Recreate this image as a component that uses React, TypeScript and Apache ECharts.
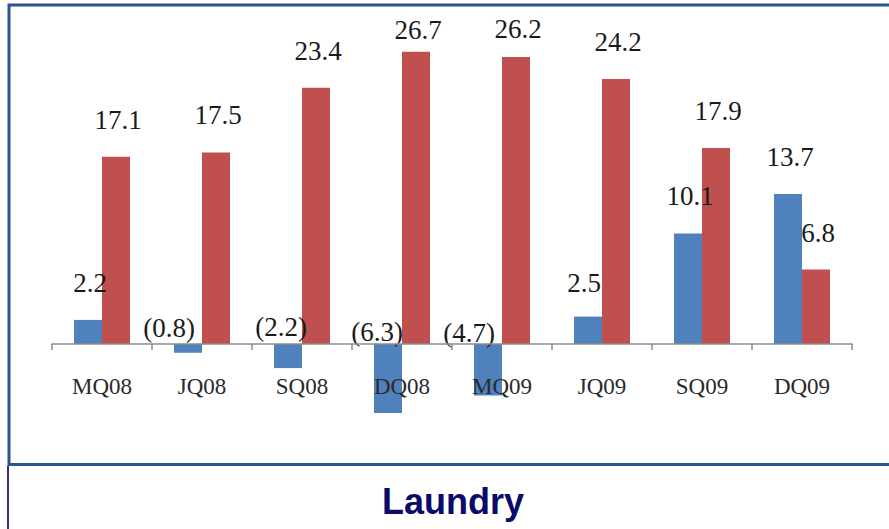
import React, { useEffect, useRef } from "react";
import * as echarts from "echarts";

// Quarterly figures, two series per quarter
const quarters = ["MQ08", "JQ08", "SQ08", "DQ08", "MQ09", "JQ09", "SQ09", "DQ09"];
const blueValues = [2.2, -0.8, -2.2, -6.3, -4.7, 2.5, 10.1, 13.7];
const redValues = [17.1, 17.5, 23.4, 26.7, 26.2, 24.2, 17.9, 6.8];
const chartTitle = "Laundry";

// Hand-placed label nudges [dx, dy] for crowded bars
const blueNudges: Record<string, [number, number]> = {
  JQ08: [-19, 0],
  SQ08: [-7, -1],
  DQ08: [-11, 4],
  MQ09: [-19, 5],
  JQ09: [-6, 3],
};
const redNudges: Record<string, [number, number]> = {
  DQ08: [0, 15],
  MQ09: [0, 9],
};

const formatValue = (v: number) =>
  v < 0 ? `(${Math.abs(v).toFixed(1)})` : v.toFixed(1);

const labelFont = {
  fontFamily: "Liberation Serif",
  fontSize: 27,
  lineHeight: 28,
  color: "#1a1a1a",
};

function buildItems(values: number[], nudges: Record<string, [number, number]>) {
  return values.map((v, i) => {
    const nudge = nudges[quarters[i]] || [0, 0];
    if (v < 0) {
      return { value: v, label: { distance: 2, offset: [nudge[0], nudge[1]] } };
    }
    return { value: v, label: { offset: [2 + nudge[0], nudge[1]] } };
  });
}

export default function App() {
  const ref = useRef<HTMLDivElement>(null);

  useEffect(() => {
    if (!ref.current) return;
    const chart = echarts.init(ref.current, undefined, { renderer: "svg" });
    chart.setOption({
      animation: false,
      backgroundColor: "#ffffff",
      grid: { left: 52, right: 37, top: 15.5, bottom: 75.5 },
      xAxis: {
        type: "category",
        data: quarters,
        z: 3,
        axisLine: { onZero: true, lineStyle: { color: "#8c8c8c", width: 1.5 } },
        axisTick: { show: true, length: 6, lineStyle: { color: "#8c8c8c", width: 1.5 } },
        axisLabel: {
          // labels sit just under the zero line rather than the grid's bottom edge
          margin: -78,
          fontFamily: "Liberation Serif",
          fontSize: 23,
          lineHeight: 22,
          color: "#2a2a2a",
        },
        splitLine: { show: false },
      },
      yAxis: {
        type: "value",
        min: -10,
        max: 30,
        show: false,
        splitLine: { show: false },
      },
      series: [
        {
          type: "bar",
          data: buildItems(blueValues, blueNudges),
          barWidth: 28,
          barGap: "0%",
          itemStyle: { color: "#4f81bd" },
          label: {
            show: true,
            position: "top",
            distance: 23,
            ...labelFont,
            formatter: (p: any) => formatValue(p.value),
          },
        },
        {
          type: "bar",
          data: buildItems(redValues, redNudges),
          barWidth: 28,
          barGap: "0%",
          itemStyle: { color: "#c0504d" },
          label: {
            show: true,
            position: "top",
            distance: 23,
            ...labelFont,
            formatter: (p: any) => formatValue(p.value),
          },
        },
      ],
      graphic: [
        {
          type: "rect",
          shape: { x: 9, y: 5, width: 900, height: 459.5 },
          style: { fill: "none", stroke: "#2b5592", lineWidth: 3 },
          silent: true,
        },
        {
          type: "line",
          shape: { x1: 8, y1: 466, x2: 8, y2: 529 },
          style: { stroke: "#2e3192", lineWidth: 2 },
          silent: true,
        },
        {
          type: "text",
          x: 453,
          y: 501,
          style: {
            text: chartTitle,
            fill: "#0b0b6b",
            font: "bold 36px 'Liberation Sans', Arial, sans-serif",
            textAlign: "center",
            textVerticalAlign: "middle",
          },
          silent: true,
        },
      ],
    });
    return () => chart.dispose();
  }, []);

  return (
    <div
      ref={ref}
      style={{ position: "fixed", left: 0, top: 0, width: 889, height: 529, background: "#fff" }}
    />
  );
}
